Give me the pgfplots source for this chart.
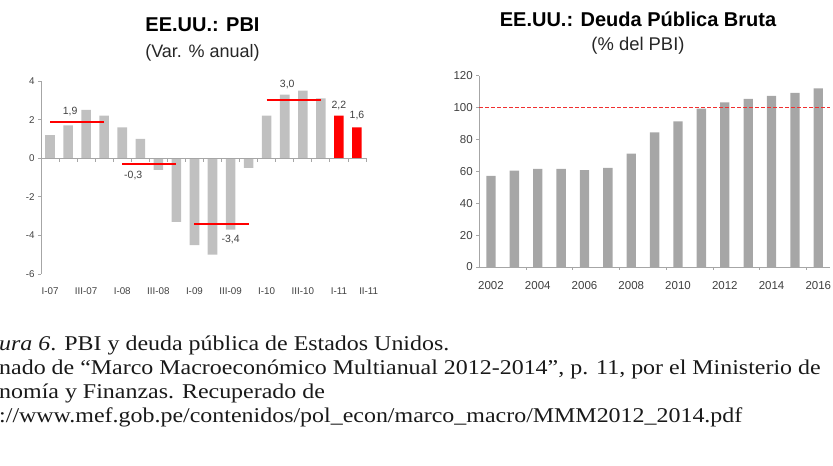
\documentclass[border=0pt]{standalone}
\usepackage{fontspec}
\setmainfont{Liberation Sans}
\newfontfamily\capfont{Liberation Serif}[FakeStretch=1.14]
\usepackage{pgfplots}
\pgfplotsset{compat=1.18}

\definecolor{barlight}{HTML}{C0C0C0}
\definecolor{bardark}{HTML}{A6A6A6}
\definecolor{axisgray}{HTML}{A6A6A6}
\definecolor{labelgray}{HTML}{404040}
\definecolor{avgred}{HTML}{FF0000}
\definecolor{refred}{HTML}{F03030}

\begin{document}
\begin{tikzpicture}
\useasboundingbox (0pt,0pt) rectangle (833pt,466pt);

% ---- Titles ----
\node[anchor=base, inner sep=0, font=\bfseries\fontsize{20}{24}\selectfont] at (202.5pt,434.3pt) {EE.UU.: PBI};
\node[anchor=base, inner sep=0, font=\fontsize{18}{22}\selectfont, text=black!85] at (202.5pt,408.5pt) {(Var. \% anual)};
\node[anchor=base, inner sep=0, font=\bfseries\fontsize{20}{24}\selectfont] at (638pt,439.3pt) {EE.UU.: Deuda Pública Bruta};
\node[anchor=base, inner sep=0, font=\fontsize{18.4}{22}\selectfont, text=black!85] at (638pt,415pt) {(\% del PBI)};

% ---- GDP growth, quarterly ----
% x runs to 17.7 so that the last quarter label fits; the zero line stops at 17.5
\begin{axis}[
  at={(41pt,192pt)}, anchor=south west,
  width=328.6pt, height=193pt, scale only axis,
  xmin=-0.5, xmax=17.7, ymin=-6, ymax=4,
  axis x line*=bottom, axis y line*=left,
  x axis line style={draw=none},
  y axis line style={draw=axisgray, line width=0.8pt},
  ytick={-6,-4,-2,0,2,4}, yticklabels={-6,-4,-2,0,2,4},
  ytick style={draw=axisgray, line width=0.8pt},
  xtick={0,2,4,6,8,10,12,14,16,17.65},
  xticklabels={I-07,III-07,I-08,III-08,I-09,III-09,I-10,III-10,I-11,II-11},
  xtick style={draw=none},
  xticklabel style={yshift=-7pt},
  tick align=outside, major tick length=3pt,
  ticklabel style={font=\fontsize{9.8}{11}\selectfont, text=labelgray},
  bar width=0.53, clip=false,
]
% quarterly growth bars
\addplot[ybar, bar shift=0pt, fill=barlight, draw=none] coordinates {
  (0,1.2) (1,1.7) (2,2.5) (3,2.2) (4,1.6) (5,1.0) (6,-0.6) (7,-3.3)
  (8,-4.5) (9,-5.0) (10,-3.7) (11,-0.5) (12,2.2) (13,3.3) (14,3.5) (15,3.1)};
\addplot[ybar, bar shift=0pt, fill=avgred, draw=none] coordinates {(16,2.2) (17,1.6)};

% yearly averages
\addplot[color=avgred, line width=2pt, mark=none] coordinates {(0,1.9) (3,1.9)};
\addplot[color=avgred, line width=2pt, mark=none] coordinates {(4,-0.3) (7,-0.3)};
\addplot[color=avgred, line width=2pt, mark=none] coordinates {(8,-3.4) (11,-3.4)};
\addplot[color=avgred, line width=2pt, mark=none] coordinates {(12,3.0) (15,3.0)};

\tikzset{vallabel/.style={font=\fontsize{10.5}{12}\selectfont, text=labelgray, inner sep=0}}
\node[vallabel] at (axis cs:1.11,2.44) {1,9};
\node[vallabel] at (axis cs:4.61,-0.91) {-0,3};
\node[vallabel] at (axis cs:10.0,-4.2) {-3,4};
\node[vallabel] at (axis cs:13.14,3.8) {3,0};
\node[vallabel] at (axis cs:16.0,2.75) {2,2};
\node[vallabel] at (axis cs:17.0,2.2) {1,6};

% zero line with category ticks
\draw[axisgray, line width=0.8pt] (axis cs:-0.5,0) -- (axis cs:17.5,0);
\pgfplotsinvokeforeach{0.5,1.5,...,17.5}{\draw[axisgray, line width=0.8pt] (axis cs:#1,0) -- ([yshift=-4pt]axis cs:#1,0);}
\end{axis}

% ---- Gross public debt, % of GDP ----
\begin{axis}[
  at={(479.3pt,199pt)}, anchor=south west,
  width=350.7pt, height=191.3pt, scale only axis,
  xmin=-0.5, xmax=14.5, ymin=0, ymax=120,
  axis x line*=bottom, axis y line*=left,
  axis line style={draw=axisgray, line width=0.8pt},
  ytick={0,20,40,60,80,100,120}, yticklabels={0,20,40,60,80,100,120},
  xtick={0,2,4,6,8,10,12,14},
  xticklabels={2002,2004,2006,2008,2010,2012,2014,2016},
  xtick style={draw=none},
  xticklabel style={yshift=-8pt},
  ytick style={draw=axisgray, line width=0.8pt},
  tick align=outside, major tick length=3pt,
  ticklabel style={font=\fontsize{11.5}{13}\selectfont, text=labelgray},
  bar width=0.4, clip=false,
]
\addplot[ybar, bar shift=0pt, fill=bardark, draw=none] coordinates {
  (0,57.1) (1,60.4) (2,61.5) (3,61.5) (4,60.8) (5,62.1) (6,71.1) (7,84.5)
  (8,91.3) (9,99.4) (10,103.2) (11,105.5) (12,107.4) (13,109.3) (14,112.0)};
% 100% reference level
\addplot[color=refred, line width=1.3pt, mark=none, dash pattern=on 3.5pt off 2.5pt] coordinates {(-0.5,100) (14.5,100)};
\pgfplotsinvokeforeach{1.5,3.5,...,13.5}{\draw[axisgray, line width=0.8pt] (axis cs:#1,0) -- ([yshift=-3pt]axis cs:#1,0);}
\end{axis}

% ---- Caption ----
\begin{scope}[every node/.style={anchor=base west, inner sep=0, text=black!90, font=\capfont\fontsize{21}{24}\selectfont}]
\node at (-1pt,115pt) {\textit{ura 6}. PBI y deuda pública de Estados Unidos.};
\node at (-1pt,91pt) {nado de “Marco Macroeconómico Multianual 2012-2014”, p. 11, por el Ministerio de};
\node at (-1pt,67pt) {nomía y Finanzas. Recuperado de};
\node at (-1pt,43.5pt) {://www.mef.gob.pe/contenidos/pol\_econ/marco\_macro/MMM2012\_2014.pdf};
\end{scope}
\end{tikzpicture}
\end{document}
